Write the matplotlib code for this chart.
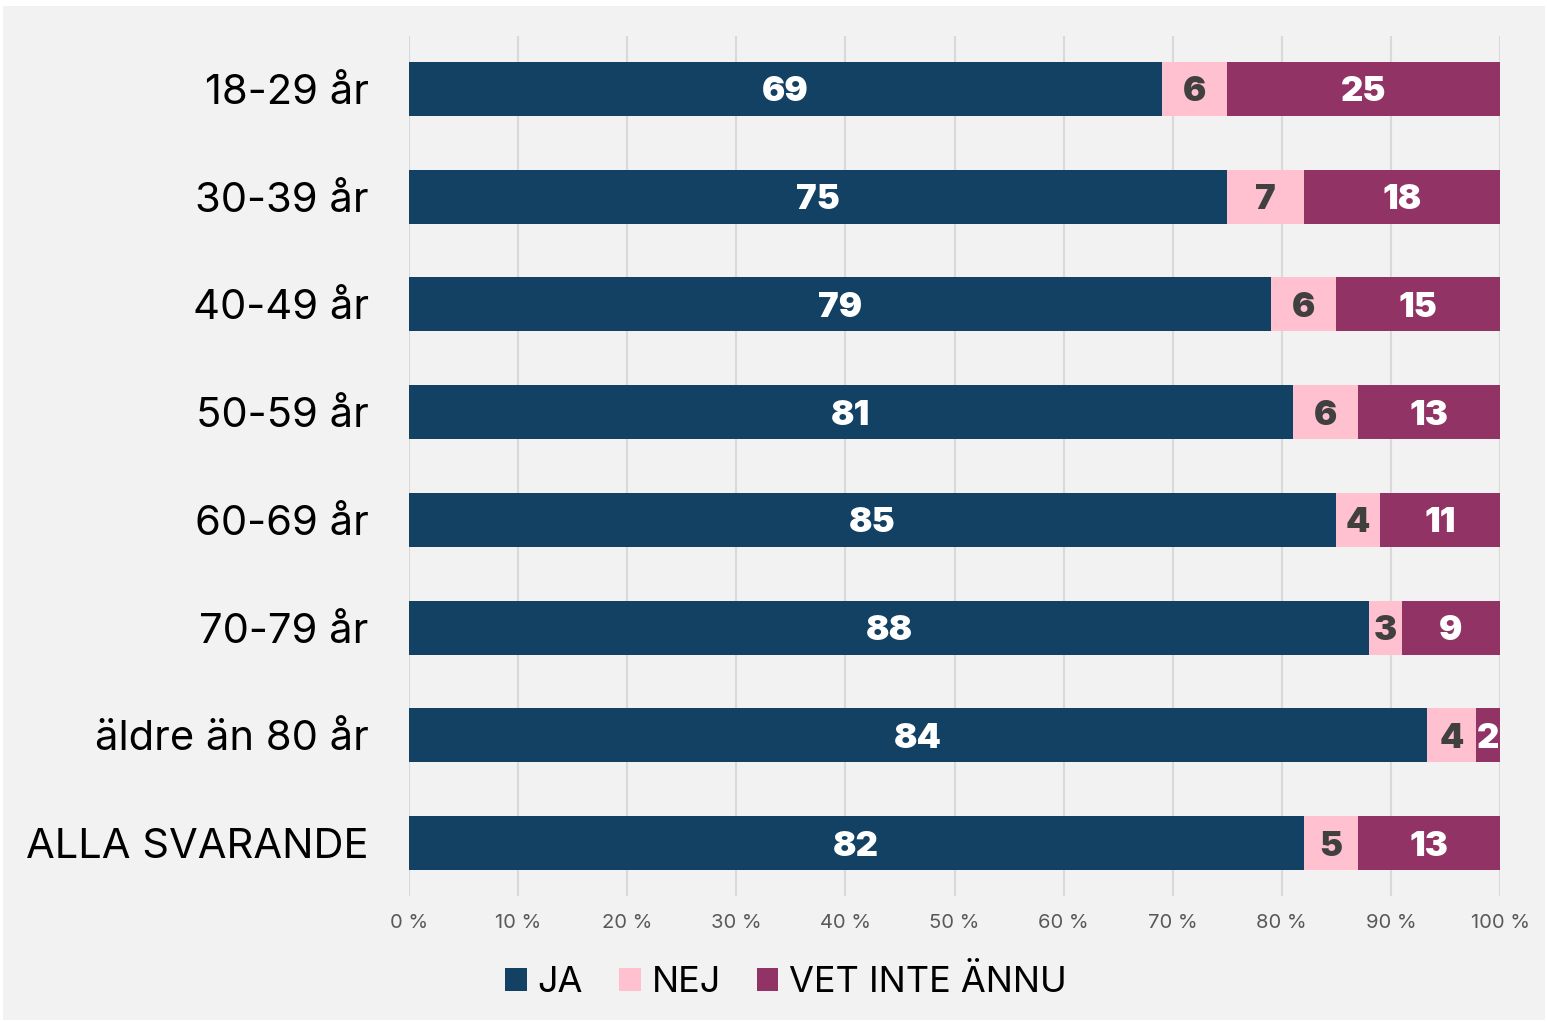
import numpy as np
import matplotlib
matplotlib.use("Agg")
import matplotlib.pyplot as plt
from matplotlib.patches import Rectangle

plt.rcParams['font.family'] = ['Inter', 'DejaVu Sans']

kategorier = ["18-29 år", "30-39 år", "40-49 år", "50-59 år",
              "60-69 år", "70-79 år", "äldre än 80 år", "ALLA SVARANDE"]
ja = [69, 75, 79, 81, 85, 88, 84, 82]
nej = [6, 7, 6, 6, 4, 3, 4, 5]
vet_inte = [25, 18, 15, 13, 11, 9, 2, 13]
serier = ["JA", "NEJ", "VET INTE ÄNNU"]
farger = ["#124163", "#FFC0CF", "#923366"]
textfarger = ["white", "#404040", "white"]
xticks = [0, 10, 20, 30, 40, 50, 60, 70, 80, 90, 100]

data = np.array([ja, nej, vet_inte], dtype=float)
total = data.sum(axis=0)
andel = data / total * 100

fig = plt.figure(figsize=(15.47, 10.22), dpi=100, facecolor="white")
fig.patches.append(Rectangle((3 / 1547, 2 / 1022), 1542 / 1547, 1014 / 1022,
                             transform=fig.transFigure, facecolor="#F2F2F2",
                             edgecolor="none", zorder=-10))
ax = fig.add_axes([409 / 1547, 1 - 896 / 1022, 1091 / 1547, 860 / 1022])
ax.set_facecolor("none")

y = np.arange(len(kategorier))
vanster = np.zeros(len(kategorier))
for i in range(3):
    ax.barh(y, andel[i], left=vanster, height=0.5, color=farger[i],
            label=serier[i], zorder=3)
    for j in range(len(kategorier)):
        ax.text(vanster[j] + andel[i][j] / 2, y[j], "%d" % data[i][j],
                ha="center", va="center_baseline", color=textfarger[i],
                fontsize=25, fontweight="black", zorder=4)
    vanster += andel[i]

ax.set_xlim(0, 100)
ax.set_ylim(7.49, -0.49)
ax.set_xticks(xticks)
ax.set_xticklabels(["%d %%" % t for t in xticks], fontsize=14.5, color="#595959")
ax.set_yticks(y)
ax.set_yticklabels(kategorier, fontsize=30, color="black")
ax.tick_params(axis="y", length=0, pad=29)
ax.tick_params(axis="x", length=0, pad=13)
ax.grid(axis="x", color="#D9D9D9", linewidth=1.5, zorder=1)
for s in ax.spines.values():
    s.set_visible(False)

h, l = ax.get_legend_handles_labels()
fig.legend(h, l, loc="center", bbox_to_anchor=(786 / 1547, 1 - 982 / 1022), ncol=3,
           frameon=False, fontsize=26, handlelength=0.6, handleheight=0.6,
           handletextpad=0.3, columnspacing=1.0)

fig.savefig("out.png", dpi=100, facecolor="white")
